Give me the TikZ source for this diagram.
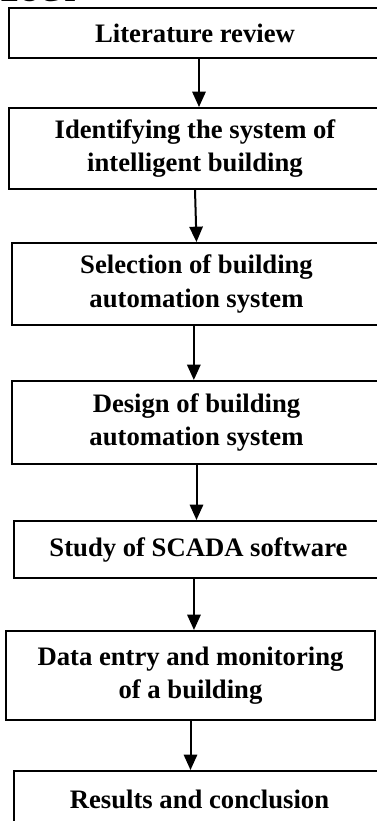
\documentclass[tikz,border=0pt]{standalone}
\usepackage{fontspec}
\setmainfont{Liberation Serif}
\usepackage{tikz}
\usetikzlibrary{shapes,arrows.meta}

\tikzset{
  stepbox/.style={draw, rectangle, line width=1.5pt, anchor=north west,
    align=center, inner sep=0pt,
    font=\bfseries\fontsize{20}{25}\selectfont},
  flowarrow/.style={line width=1.5pt, -{Triangle[length=11.5pt,width=10pt]}}
}

\begin{document}
\begin{tikzpicture}[x=0.75pt, y=-0.75pt]
  % Sizes
  \pgfmathsetmacro{\px}{0.75}
  \useasboundingbox (0,0) rectangle (377,821);
  \clip (0,0) rectangle (377,821);

  % heading, cut off at the top
  \node[anchor=base east, inner sep=0pt,
        font=\bfseries\fontsize{20}{20}\selectfont] (heading) at (80,2) {METHODOLOGY};

  % steps
  \node[stepbox, minimum width=372*\px*1pt, minimum height=50*\px*1pt] (lit) at (8,7)
    {Literature review};
  \node[stepbox, minimum width=372*\px*1pt, minimum height=81*\px*1pt] (ident) at (8,107)
    {Identifying the system of\\intelligent building};
  \node[stepbox, minimum width=369*\px*1pt, minimum height=82*\px*1pt] (select) at (11,242)
    {Selection of building\\automation system};
  \node[stepbox, minimum width=369*\px*1pt, minimum height=83*\px*1pt] (design) at (11,380)
    {Design of building\\automation system};
  \node[stepbox, minimum width=369*\px*1pt, minimum height=57*\px*1pt] (scada) at (13,520)
    {Study of SCADA software};
  \node[stepbox, minimum width=369*\px*1pt, minimum height=89*\px*1pt] (data) at (5,630)
    {Data entry and monitoring\\of a building};
  \node[stepbox, minimum width=371*\px*1pt, minimum height=57*\px*1pt] (results) at (13,770)
    {Results and conclusion};

  % arrows
  \coordinate (lit-out) at ([xshift=3pt]lit.south);
  \coordinate (scada-out) at ([xshift=-3.4pt]scada.south);
  \draw[flowarrow] (lit-out) -- (lit-out |- ident.north);
  \draw[flowarrow] (ident.south) -- (select.north);
  \draw[flowarrow] ([xshift=-2pt]select.south) -- ([xshift=-2pt]design.north);
  \draw[flowarrow] (design.south) -- (design.south |- scada.north);
  \draw[flowarrow] (scada-out) -- (scada-out |- data.north);
  \draw[flowarrow] (data.south) -- (data.south |- results.north);
\end{tikzpicture}
\end{document}
